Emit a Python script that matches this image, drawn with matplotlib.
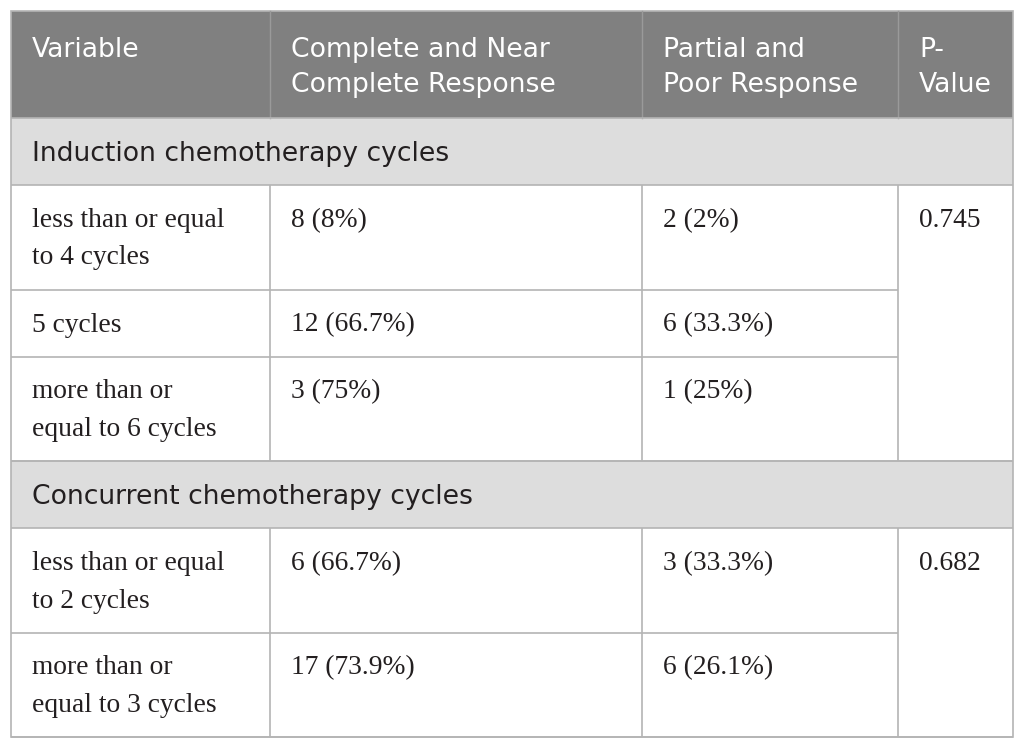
import matplotlib
matplotlib.use("Agg")
import matplotlib.pyplot as plt
from matplotlib.patches import Rectangle

# ---- data ----
columns = ["Variable", "Complete and Near\nComplete Response", "Partial and\nPoor Response", "P-\nValue"]
sections = ["Induction chemotherapy cycles", "Concurrent chemotherapy cycles"]
variables = [
    ["less than or equal\nto 4 cycles", "5 cycles", "more than or\nequal to 6 cycles"],
    ["less than or equal\nto 2 cycles", "more than or\nequal to 3 cycles"],
]
complete_near = [["8 (8%)", "12 (66.7%)", "3 (75%)"], ["6 (66.7%)", "17 (73.9%)"]]
partial_poor = [["2 (2%)", "6 (33.3%)", "1 (25%)"], ["3 (33.3%)", "6 (26.1%)"]]
p_values = ["0.745", "0.682"]

# ---- layout (pixels) ----
W, H = 1025, 749
col_edges = [11, 270, 642, 898, 1013]
header_h = 107
section_h = 67
line_gap = 37.5
pad_x = 21
base_off = 42

header_bg = "#808080"
section_bg = "#dddddd"
grid_c = "#b4b4b4"
text_c = "#231f20"
sans = ["DejaVu Sans"]
serif = ["Liberation Serif", "DejaVu Serif"]
fs_head = 19.2
fs_body = 19.8

fig = plt.figure(figsize=(W / 100, H / 100), dpi=100)
ax = fig.add_axes([0, 0, 1, 1])
ax.set_xlim(0, W)
ax.set_ylim(H, 0)
ax.axis("off")

left, right = col_edges[0], col_edges[-1]
y = 11
# header
ax.add_patch(Rectangle((left, y), right - left, header_h, facecolor=header_bg, edgecolor="none"))
for i, name in enumerate(columns):
    for k, ln in enumerate(name.split("\n")):
        ax.text(col_edges[i] + pad_x, y + 46 + k * 35.5, ln, family=sans, fontsize=fs_head,
                color="white", va="baseline", ha="left")
for xe in col_edges[1:-1]:
    ax.plot([xe, xe], [y, y + header_h], color="#9a9a9a", lw=1)
y += header_h

hlines = []
vsegs = []
for s, sec in enumerate(sections):
    ax.add_patch(Rectangle((left, y), right - left, section_h, facecolor=section_bg, edgecolor="none"))
    ax.text(left + pad_x, y + base_off + 1, sec, family=sans, fontsize=fs_head, color=text_c,
            va="baseline", ha="left")
    hlines.append((left, right, y))
    y += section_h
    hlines.append((left, right, y))
    block_top = y
    for r, var in enumerate(variables[s]):
        nlines = var.count("\n") + 1
        rh = section_h + (nlines - 1) * line_gap
        cells = [var, complete_near[s][r], partial_poor[s][r]]
        for c, txt in enumerate(cells):
            for k, ln in enumerate(txt.split("\n")):
                ax.text(col_edges[c] + pad_x, y + base_off + k * line_gap, ln, family=serif,
                        fontsize=fs_body, color=text_c, va="baseline", ha="left")
        y += rh
        if r < len(variables[s]) - 1:
            hlines.append((left, col_edges[3], y))
    ax.text(col_edges[3] + pad_x, block_top + base_off, p_values[s], family=serif,
            fontsize=fs_body, color=text_c, va="baseline", ha="left")
    for xe in col_edges[1:-1]:
        vsegs.append((xe, block_top, y))
    hlines.append((left, right, y))

for x0, x1, yy in hlines:
    ax.plot([x0, x1], [yy, yy], color=grid_c, lw=1.2, solid_capstyle="butt")
for xe, y0, y1 in vsegs:
    ax.plot([xe, xe], [y0, y1], color=grid_c, lw=1.2, solid_capstyle="butt")
# outer border
ax.add_patch(Rectangle((left, 11), right - left, y - 11, facecolor="none", edgecolor=grid_c, lw=1.2))

fig.savefig("out.png", dpi=100)
